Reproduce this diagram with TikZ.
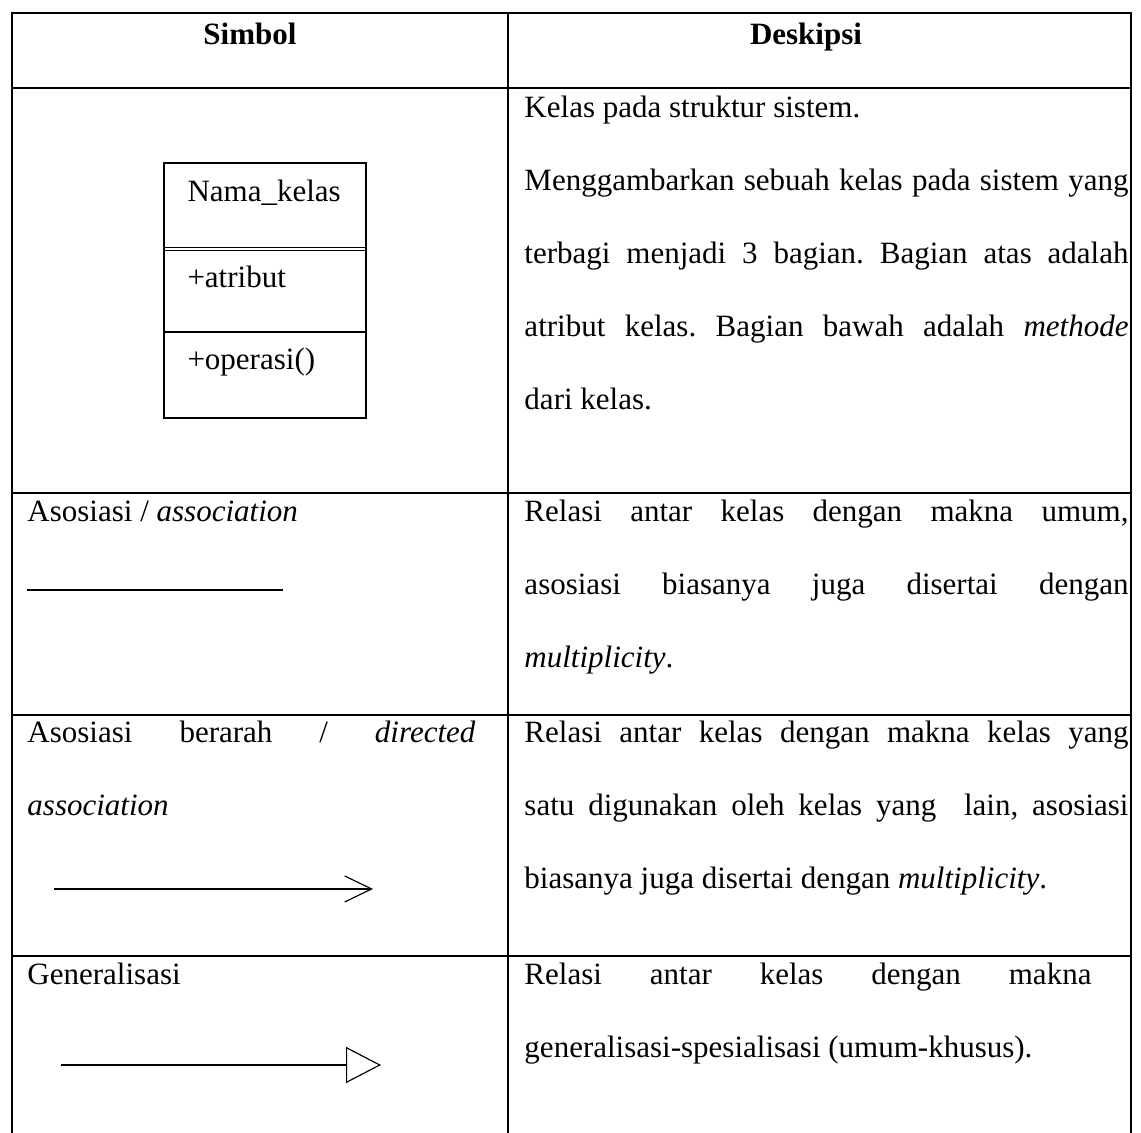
\documentclass[tikz,border=0pt]{standalone}
\usepackage{fontspec}
\setmainfont{Liberation Serif}
\usetikzlibrary{arrows.meta}
\hyphenpenalty=10000
\exhyphenpenalty=10000
\frenchspacing

\begin{document}
\begin{tikzpicture}[
        grid/.style={line width=0.55pt},
        link/.style={line width=0.45pt},
        txt/.style={inner sep=0pt, anchor=base west, font=\fontsize{12}{28.2}\selectfont},
        para/.style={txt, align=justify, text width=#1},
        head/.style={inner sep=0pt, anchor=base, font=\fontsize{12}{28.2}\selectfont\bfseries},
        kelasbox/.style={rectangle, draw, line width=0.5pt, minimum width=2.75cm, minimum height=3.47cm, inner sep=0pt}
    ]
    \useasboundingbox (0,0) rectangle (15.524,15.415);

    % Table lines
    \draw[grid] (0.163,0) -- (0.163,15.238) -- (15.388,15.238) -- (15.388,0);
    \draw[grid] (6.912,0) -- (6.912,15.238);
    \foreach \y in {14.218, 8.707, 5.687, 2.408}
        \draw[grid] (0.163,\y) -- (15.388,\y);

    % Header
    \node[head] (simbol) at (3.401,14.816) {Simbol};
    \node[head] (deskipsi) at (10.966,14.816) {Deskipsi};

    % Kelas
    \node[kelasbox] (kelas) at (3.605,11.463) {};
    \draw[link] (kelas.west |- 0,12.047) -- (kelas.east |- 0,12.047);
    \draw[link] (kelas.west |- 0,12.008) -- (kelas.east |- 0,12.008);
    \draw[link] (kelas.west |- 0,10.898) -- (kelas.east |- 0,10.898);
    \node[txt] (nama) at (2.544,12.667) {Nama\_kelas};
    \node[txt] (atribut) at (2.544,11.510) {+atribut};
    \node[txt] (operasi) at (2.544,10.381) {+operasi()};

    \node[para=8.218cm] (descKelas) at (7.129,13.810) {Kelas pada struktur sistem.\par
        Menggambarkan sebuah kelas pada sistem yang\linebreak
        terbagi menjadi 3 bagian. Bagian atas adalah\linebreak
        atribut kelas. Bagian bawah adalah \emph{methode}\linebreak
        dari kelas.};

    % Asosiasi
    \node[txt] (asosiasi) at (0.367,8.313) {Asosiasi / \emph{association}};
    \coordinate (asosiasiA) at (0.367,7.388);
    \coordinate (asosiasiB) at (3.850,7.388);
    \draw[link] (asosiasiA) -- (asosiasiB);

    \node[para=8.218cm] (descAsosiasi) at (7.129,8.313) {Relasi antar kelas dengan makna umum,\linebreak
        asosiasi biasanya juga disertai dengan\linebreak
        \emph{multiplicity}.};

    % Asosiasi berarah
    \node[para=6.095cm] (berarah) at (0.367,5.306) {Asosiasi berarah / \emph{directed}\linebreak
        \emph{association}};
    \coordinate (berarahA) at (0.735,3.320);
    \coordinate (berarahB) at (5.075,3.320);
    \draw[link, -{Straight Barb[length=0.367cm, width=0.354cm]}] (berarahA) -- (berarahB);

    \node[para=8.218cm] (descBerarah) at (7.129,5.306) {Relasi antar kelas dengan makna kelas yang\linebreak
        satu digunakan oleh kelas yang\ \ lain, asosiasi\linebreak
        biasanya juga disertai dengan \emph{multiplicity}.};

    % Generalisasi
    \node[txt] (generalisasi) at (0.367,2.014) {Generalisasi};
    \coordinate (generalA) at (0.830,0.925);
    \coordinate (generalB) at (5.184,0.925);
    \draw[link, -{Triangle[open, length=0.476cm, width=0.49cm]}] (generalA) -- (generalB);

    \node[para=7.714cm] (descGeneral) at (7.129,2.014) {Relasi antar kelas dengan makna\linebreak
        generalisasi-spesialisasi (umum-khusus).};

\end{tikzpicture}
\end{document}
